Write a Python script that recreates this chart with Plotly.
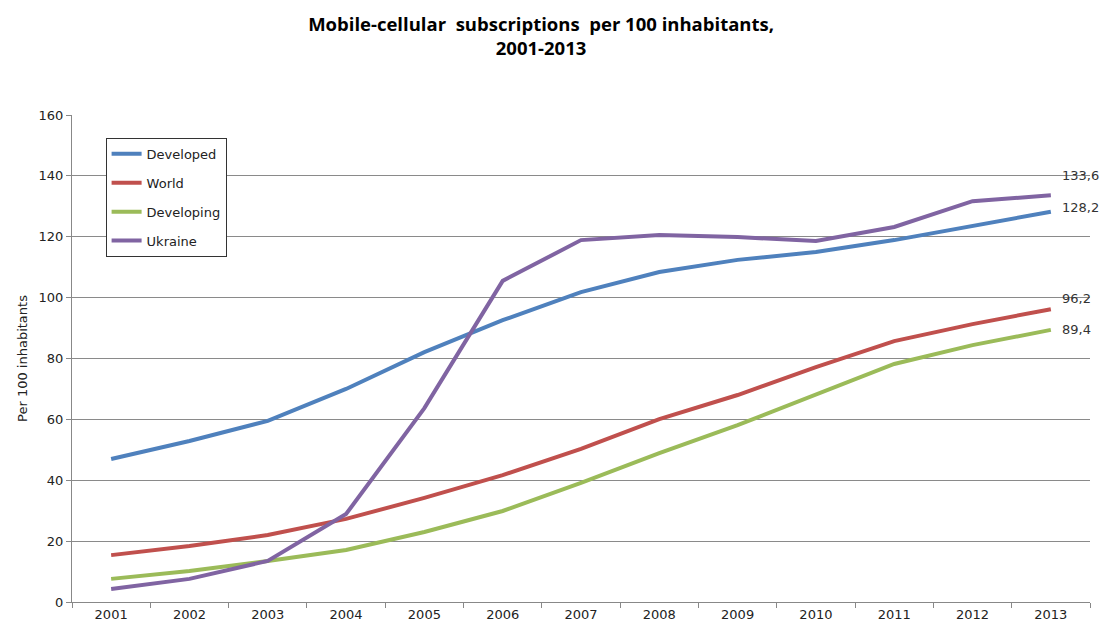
import plotly.graph_objects as go

years = ["2001", "2002", "2003", "2004", "2005", "2006", "2007",
         "2008", "2009", "2010", "2011", "2012", "2013"]
developed = [47.0, 52.9, 59.5, 70.0, 82.1, 92.6, 101.8, 108.4, 112.4, 115.0, 118.9, 123.5, 128.2]
world = [15.4, 18.4, 22.0, 27.3, 34.2, 41.7, 50.3, 60.1, 68.0, 77.2, 85.7, 91.3, 96.2]
developing = [7.6, 10.2, 13.5, 17.1, 23.0, 29.9, 39.1, 48.9, 58.1, 68.3, 78.2, 84.4, 89.4]
ukraine = [4.3, 7.6, 13.5, 28.9, 63.7, 105.5, 118.9, 120.6, 119.9, 118.6, 123.2, 131.7, 133.6]

series = [
    ("Developed", developed, "#4F81BD"),
    ("World", world, "#C0504D"),
    ("Developing", developing, "#9BBB59"),
    ("Ukraine", ukraine, "#8064A2"),
]

fig = go.Figure()
for name, vals, color in series:
    fig.add_trace(go.Scatter(x=years, y=vals, name=name, mode="lines",
                             legendgroup=name,
                             line=dict(color=color, width=4)))

last = len(years) - 1
end_labels = [("133,6", ukraine[-1], 20), ("128,2", developed[-1], 4),
              ("96,2", world[-1], 11), ("89,4", developing[-1], 0)]
for txt, v, ys in end_labels:
    fig.add_annotation(x=last, y=v, xref="x", yref="y", text=txt, showarrow=False,
                       xanchor="left", yanchor="middle", xshift=9, yshift=ys,
                       font=dict(family="DejaVu Sans", size=13, color="#333333"))

fig.update_layout(
    width=1102, height=633,
    margin=dict(l=72, r=12, t=115, b=31),
    paper_bgcolor="white", plot_bgcolor="white",
    title=dict(text="<b>Mobile-cellular  subscriptions  per 100 inhabitants,<br>2001-2013</b>",
               x=0.491, xanchor="center", y=0.951, yanchor="top",
               font=dict(family="Open Sans", size=18.5, color="black")),
    legend=dict(x=0.033, y=0.953, xanchor="left", yanchor="top",
                bordercolor="#333333", borderwidth=1, bgcolor="white",
                font=dict(family="DejaVu Sans", size=13, color="#222222"),
                tracegroupgap=9, itemwidth=30),
    showlegend=True,
    font=dict(family="DejaVu Sans", size=13, color="#333333"),
)
fig.update_xaxes(type="category", range=[-0.5, 12.5], showline=True, linecolor="#888888",
                 ticks="outside", tickson="boundaries", ticklen=5, tickcolor="#888888",
                 showgrid=False, tickfont=dict(family="DejaVu Sans", size=13, color="#222222"))
fig.update_yaxes(range=[0, 160], dtick=20, showline=True, linecolor="#888888",
                 ticks="outside", ticklen=5, tickcolor="#888888",
                 gridcolor="#8a8a8a", gridwidth=1, zeroline=False,
                 title=dict(text="Per 100 inhabitants", standoff=8,
                            font=dict(family="DejaVu Sans", size=13, color="#222222")),
                 tickfont=dict(family="DejaVu Sans", size=13, color="#222222"))

fig.write_html("out.html")
